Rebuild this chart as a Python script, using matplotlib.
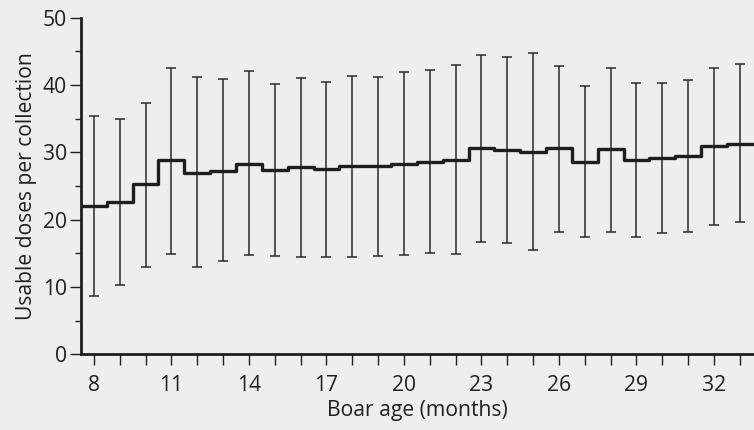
import numpy as np
import matplotlib.pyplot as plt

plt.rcParams['font.family'] = ['Open Sans', 'DejaVu Sans']

# Boar age (months)
ages = np.arange(8, 34)

# Mean usable doses per collection (step line)
mean_doses = [22.0, 22.7, 25.3, 28.8, 27.0, 27.3, 28.3, 27.4, 27.8, 27.5,
              27.9, 28.0, 28.3, 28.6, 28.9, 30.6, 30.4, 30.1, 30.6, 28.6,
              30.5, 28.9, 29.1, 29.5, 31.0, 31.3]

# Error bar ends
upper = [35.4, 35.0, 37.4, 42.6, 41.2, 40.9, 42.1, 40.2, 41.1, 40.5,
         41.4, 41.2, 42.0, 42.2, 43.0, 44.5, 44.2, 44.8, 42.8, 39.8,
         42.6, 40.3, 40.3, 40.7, 42.6, 43.1]
lower = [8.7, 10.3, 13.0, 14.9, 13.0, 13.9, 14.7, 14.6, 14.4, 14.5,
         14.4, 14.6, 14.7, 15.1, 14.9, 16.7, 16.5, 15.5, 18.2, 17.4,
         18.2, 17.5, 18.0, 18.2, 19.2, 19.6]

xtick_labels = [8, 11, 14, 17, 20, 23, 26, 29, 32]

bg = '#eeeeee'
txt = '#231f20'

fig = plt.figure(figsize=(7.54, 4.30), dpi=100, facecolor=bg)
ax = fig.add_axes([0.1074, 0.176, 0.8926, 0.7828], facecolor=bg)

mean = np.array(mean_doses)
yerr = [mean - np.array(lower), np.array(upper) - mean]
ax.errorbar(ages, mean, yerr=yerr, fmt='none', ecolor='#2a2a2a',
            elinewidth=1.1, capsize=3.4, capthick=1.1, zorder=2)

# step line spanning each month bin
xs = np.concatenate([[ages[0] - 0.5], ages + 0.5])
ys = np.concatenate([mean, [mean[-1]]])
ax.step(xs, ys, where='post', color='#1e1e1e', linewidth=2.4, zorder=3)

ax.set_xlim(7.5, 33.55)
ax.set_ylim(0, 50)

ax.set_xticks(ages, minor=True)
ax.set_xticks(xtick_labels)
ax.set_yticks([0, 10, 20, 30, 40, 50])
ax.set_yticks([5, 15, 25, 35, 45], minor=True)

ax.tick_params(axis='both', which='both', direction='out', colors=txt,
               width=1.0, labelsize=15.2)
ax.tick_params(axis='x', which='both', length=8, pad=7)
ax.tick_params(axis='y', which='major', length=8, pad=2)
ax.tick_params(axis='y', which='minor', length=4)

for s in ['top', 'right']:
    ax.spines[s].set_visible(False)
for s in ['left', 'bottom']:
    ax.spines[s].set_linewidth(2.0)
    ax.spines[s].set_color('#1e1e1e')

ax.set_xlabel('Boar age (months)', fontsize=15.2, color=txt, labelpad=3)
ax.set_ylabel('Usable doses per collection', fontsize=15.2, color=txt, labelpad=4)

fig.savefig('out.png', dpi=100, facecolor=bg)
